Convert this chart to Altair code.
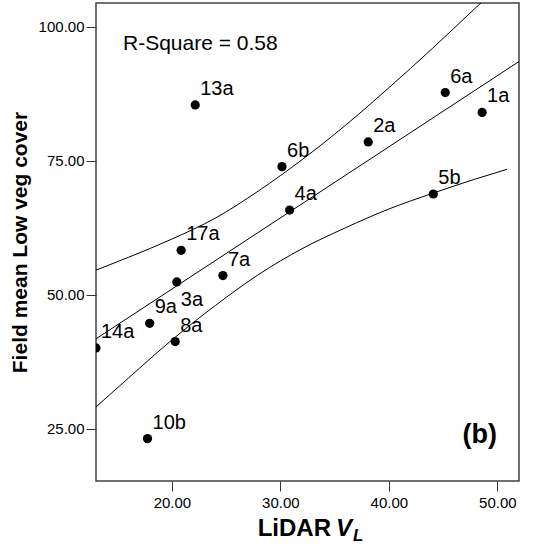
import altair as alt
import pandas as pd

# ---- data ----
labels = ["13a", "6a", "1a", "2a", "6b", "4a", "5b", "17a", "7a", "3a", "9a", "14a", "8a", "10b"]
lidar_vl = [22.15, 45.2, 48.6, 38.1, 30.15, 30.85, 44.1, 20.85, 24.7, 20.45, 17.95, 13.0, 20.3, 17.75]
field_low = [85.4, 87.7, 84.0, 78.5, 73.9, 65.8, 68.8, 58.3, 53.6, 52.4, 44.7, 40.1, 41.3, 23.2]

fit_x = [13.0, 52.0]
fit_y = [41.8, 93.5]

ci_x = [13, 16, 20, 24, 28, 32, 36, 40, 44, 48, 50.9]
ci_upper = [54.6, 57.0, 60.4, 64.3, 69.4, 75.2, 81.6, 88.6, 95.9, 103.5, 108.9]
ci_lower = [29.1, 34.5, 41.6, 48.0, 53.8, 58.6, 62.5, 66.0, 68.9, 71.6, 73.4]

x_ticks = [20, 30, 40, 50]
y_ticks = [25, 50, 75, 100]

FONT = "Liberation Sans, Arial, sans-serif"

pts = pd.DataFrame({"x": lidar_vl, "y": field_low, "label": labels})
fit = pd.DataFrame({"x": fit_x, "y": fit_y})
ci = pd.concat([
    pd.DataFrame({"x": ci_x, "y": ci_upper, "band": "upper"}),
    pd.DataFrame({"x": ci_x, "y": ci_lower, "band": "lower"}),
])

xs = alt.Scale(domain=[13, 52], nice=False, zero=False)
ys = alt.Scale(domain=[15.3, 104.4], nice=False, zero=False)

X = alt.X("x:Q", scale=xs, axis=alt.Axis(values=x_ticks, format=".2f", title=None,
          tickSize=10, labelPadding=4, labelFontSize=15, labelFont=FONT,
          labelColor="black", tickColor="#333", domain=False, grid=False))
Y = alt.Y("y:Q", scale=ys, axis=alt.Axis(values=y_ticks, format=".2f",
          title="Field mean Low veg cover", titleFont=FONT, titleFontSize=21,
          titleFontWeight="bold", titleColor="black", titlePadding=8,
          tickSize=10, labelPadding=2, labelFontSize=15, labelFont=FONT,
          labelColor="black", tickColor="#333", domain=False, grid=False))

fit_line = alt.Chart(fit).mark_line(color="black", strokeWidth=1, clip=True).encode(x=X, y=Y)
ci_lines = alt.Chart(ci).mark_line(color="black", strokeWidth=1, clip=True,
                                   interpolate="monotone").encode(x=X, y=Y, detail="band:N")
points = alt.Chart(pts).mark_circle(color="black", opacity=1, size=85, clip=True).encode(x=X, y=Y)

lab_main = alt.Chart(pts).transform_filter(alt.datum.label != "3a").mark_text(
    align="left", baseline="alphabetic", dx=5, dy=-10, font=FONT, fontSize=20, color="black"
).encode(x=X, y=Y, text="label:N")
lab_3a = alt.Chart(pts).transform_filter(alt.datum.label == "3a").mark_text(
    align="left", baseline="alphabetic", dx=4, dy=24, font=FONT, fontSize=20, color="black"
).encode(x=X, y=Y, text="label:N")

one = alt.datum.label == "13a"
rsq = alt.Chart(pts).transform_filter(one).mark_text(
    align="left", baseline="alphabetic", font=FONT, fontSize=21, color="black", text="R-Square = 0.58"
).encode(x=alt.value(27), y=alt.value(47))
panel = alt.Chart(pts).transform_filter(one).mark_text(
    align="right", baseline="alphabetic", font=FONT, fontSize=27, fontWeight="bold", color="black", text="(b)"
).encode(x=alt.value(401), y=alt.value(440))

xt1 = alt.Chart(pts).transform_filter(one).mark_text(
    align="right", baseline="alphabetic", font=FONT, fontSize=24, fontWeight="bold", color="black", text="LiDAR"
).encode(x=alt.value(235), y=alt.value(533))
xt2 = alt.Chart(pts).transform_filter(one).mark_text(
    align="left", baseline="alphabetic", font=FONT, fontSize=24, fontWeight="bold", fontStyle="italic",
    color="black", text="V"
).encode(x=alt.value(240), y=alt.value(533))
xt3 = alt.Chart(pts).transform_filter(one).mark_text(
    align="left", baseline="alphabetic", font=FONT, fontSize=17, fontWeight="bold", fontStyle="italic",
    color="black", text="L"
).encode(x=alt.value(257), y=alt.value(538))

chart = alt.layer(ci_lines, fit_line, points, lab_main, lab_3a, rsq, panel, xt1, xt2, xt3).properties(
    width=423, height=478,
    autosize=alt.AutoSizeParams(type="none"),
    padding={"left": 96, "top": 3, "right": 14, "bottom": 69},
    background="white",
).configure_view(stroke="#404040", strokeWidth=1.5)

chart.save("out.html", embed_options={"renderer": "svg", "actions": False})
